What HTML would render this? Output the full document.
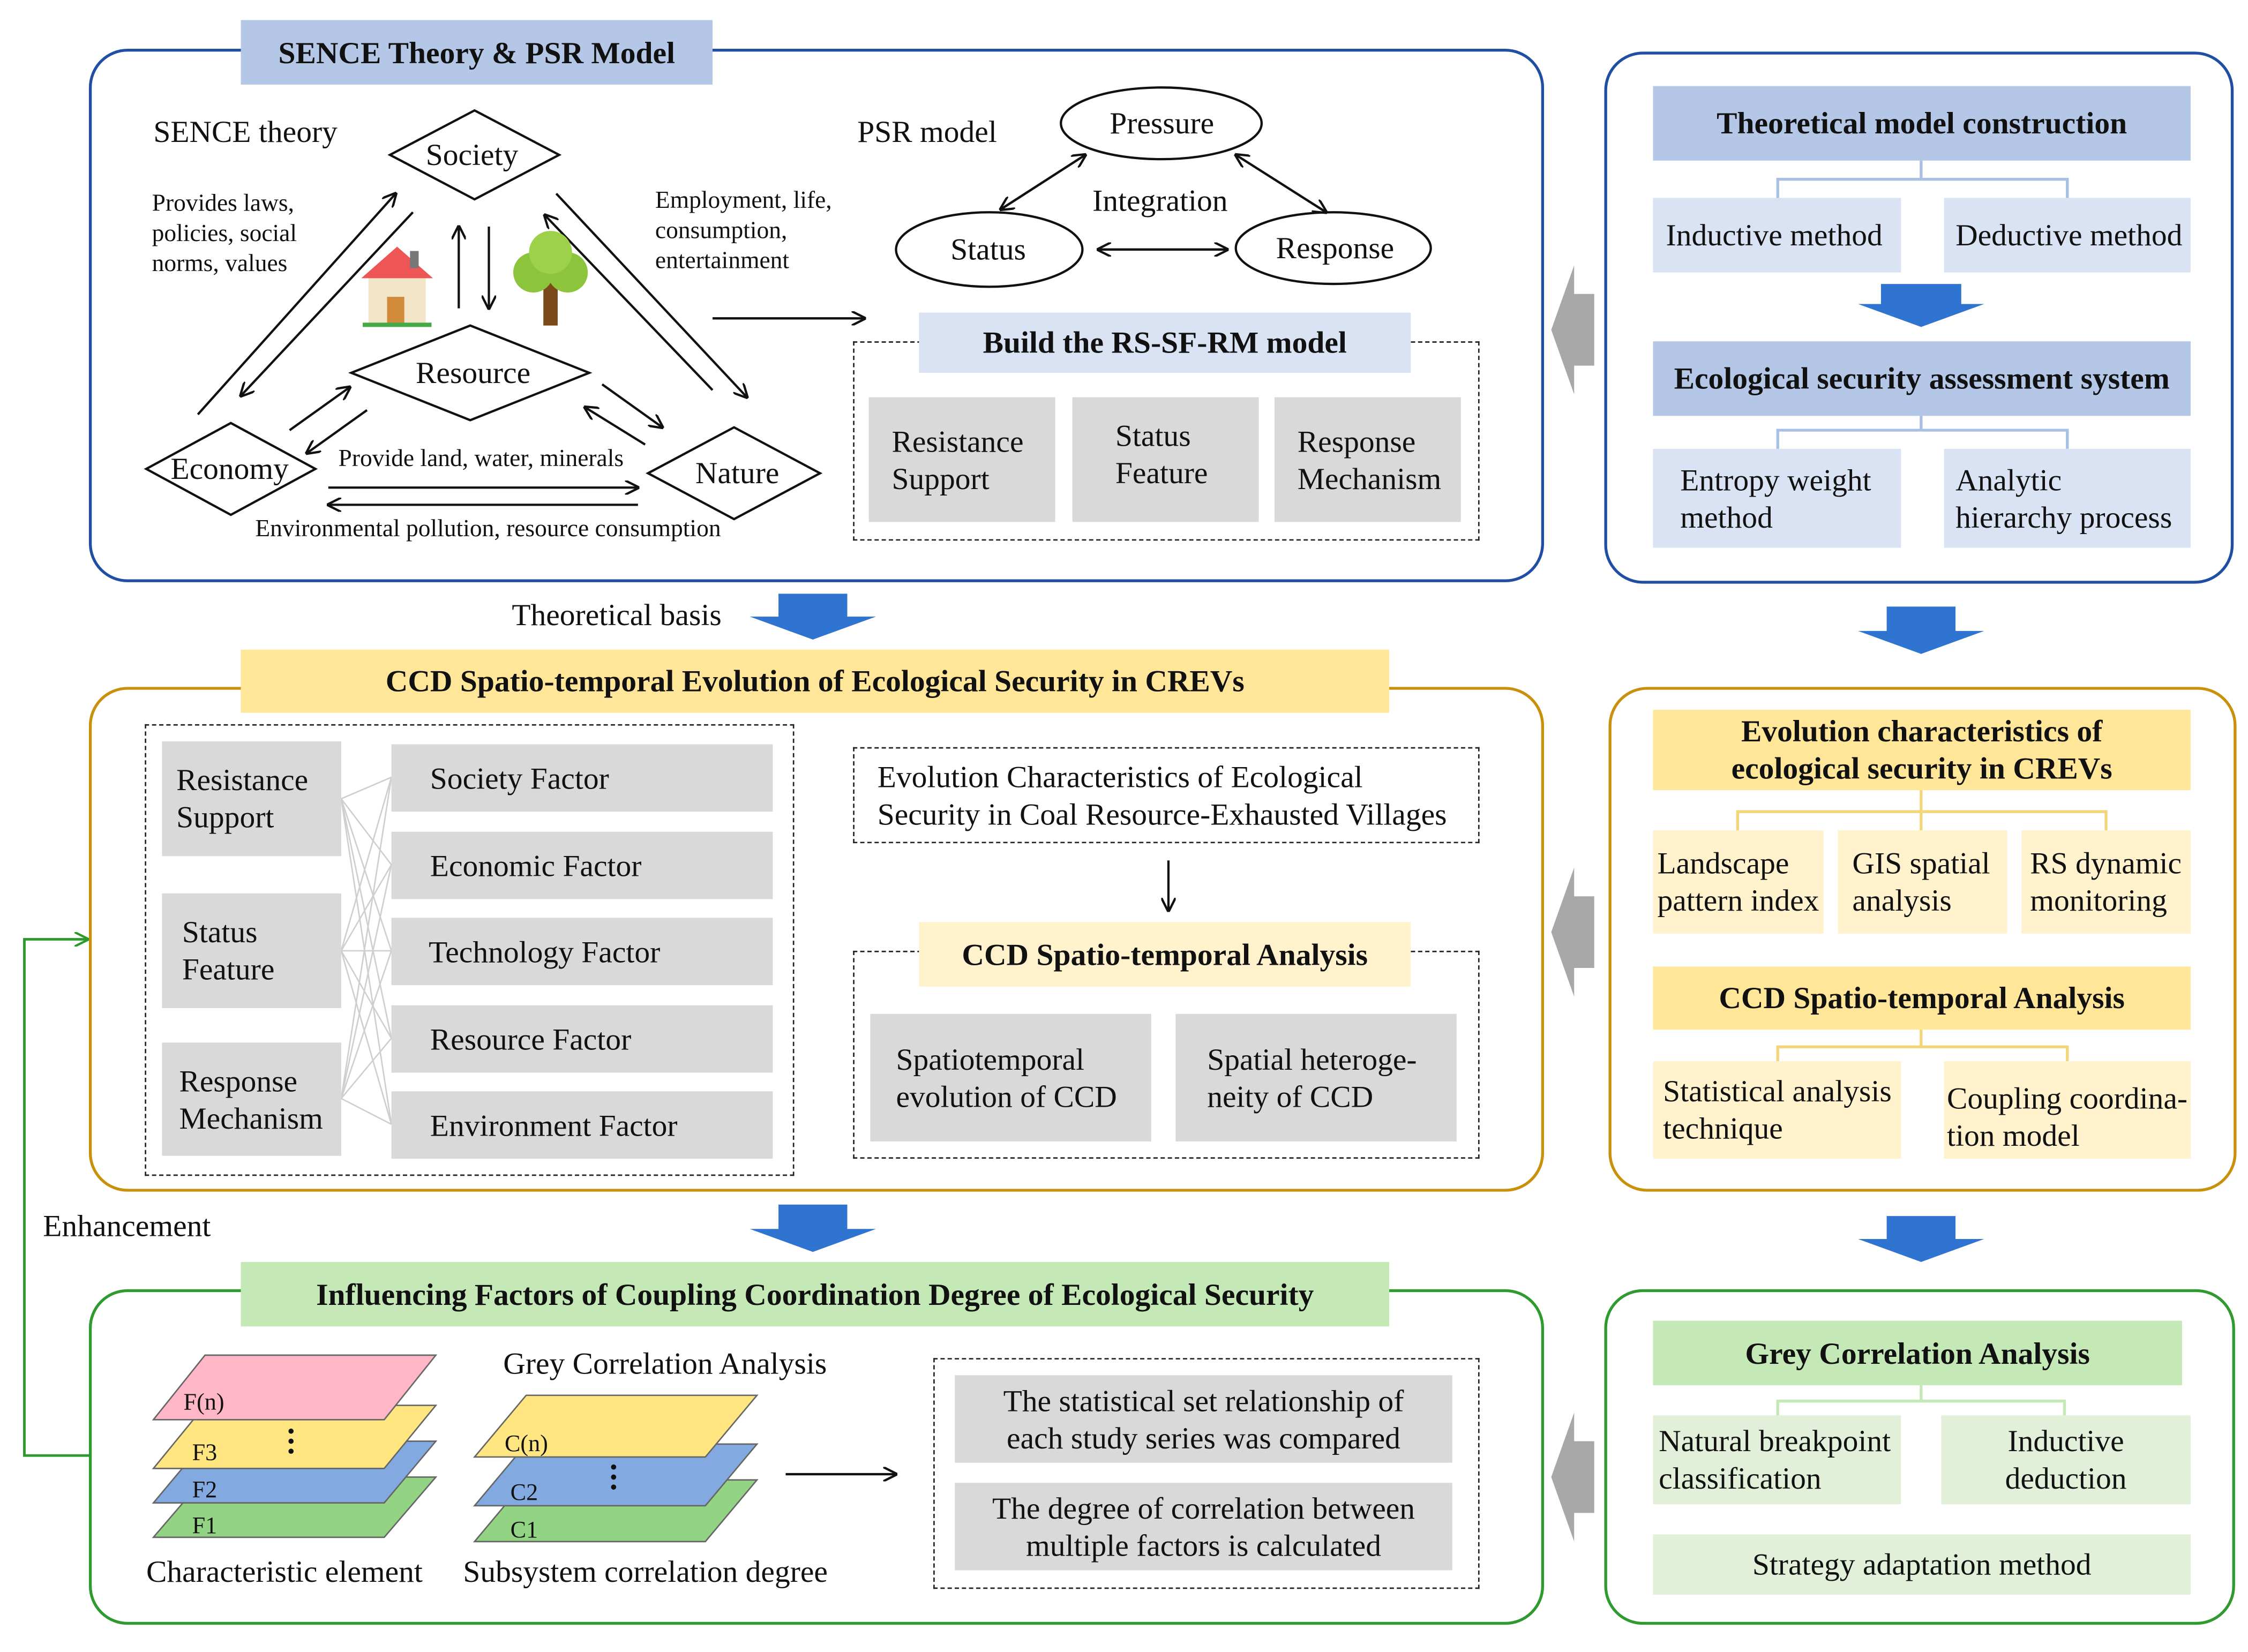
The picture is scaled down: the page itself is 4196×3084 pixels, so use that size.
<!DOCTYPE html>
<html><head><meta charset="utf-8"><style>
html,body{margin:0;padding:0;background:#fff;width:4196px;height:3084px;overflow:hidden}
#c{position:absolute;left:0;top:0;width:1568px;height:1152px;transform:scale(2.6760,2.6771);transform-origin:0 0;font-family:"Liberation Serif",serif;color:#111}
.a{position:absolute;box-sizing:border-box}
.t{position:absolute;white-space:nowrap;font-size:21.5px;line-height:24px}
.b{font-weight:bold}
.box{position:absolute;box-sizing:border-box;font-size:21.5px;line-height:26px;display:flex;align-items:center;padding-left:12px;white-space:nowrap}
.cen{justify-content:center;text-align:center;padding-left:0}
.g{background:#d9d9d9}
.lb{background:#dae3f3}.hb{background:#b4c7e7;font-weight:bold}
.ly{background:#fff2cc}.hy{background:#ffe699;font-weight:bold}
.lg{background:#e2f0d9}.hg{background:#c5e8b7;font-weight:bold}
.dash{position:absolute;box-sizing:border-box;border:1.8px dashed #222}
svg{position:absolute;left:0;top:0}
</style></head><body><div id="c">
<svg width="1568" height="1152" viewBox="0 0 1568 1152">
<defs>
<marker id="ar" markerWidth="10" markerHeight="10" refX="9" refY="5" orient="auto" markerUnits="userSpaceOnUse"><path d="M0,0 L10,5 L0,10" fill="none" stroke="#111" stroke-width="1.6"/></marker>
<marker id="ag" markerWidth="10" markerHeight="10" refX="9" refY="5" orient="auto" markerUnits="userSpaceOnUse"><path d="M0,0 L10,5 L0,10" fill="none" stroke="#2a9a2a" stroke-width="1.6"/></marker>
</defs>
<rect x="63" y="35" width="1013" height="370" rx="26" fill="none" stroke="#1f4ea3" stroke-width="2"/>
<rect x="1120" y="37" width="437" height="369" rx="26" fill="none" stroke="#1f4ea3" stroke-width="2"/>
<rect x="63" y="480" width="1013" height="350" rx="26" fill="none" stroke="#c9900c" stroke-width="2"/>
<rect x="1123" y="480" width="436" height="350" rx="26" fill="none" stroke="#c9900c" stroke-width="2"/>
<rect x="63" y="900" width="1013" height="232" rx="26" fill="none" stroke="#2f9a2f" stroke-width="2"/>
<rect x="1120" y="900" width="438" height="232" rx="26" fill="none" stroke="#2f9a2f" stroke-width="2"/>
<g fill="#fff" stroke="#111" stroke-width="1.6">
<polygon points="272,108 331,77 390,108 331,139"/>
<polygon points="245,260 328,227 411,260 328,293"/>
<polygon points="102,327 161,295 220,327 161,359"/>
<polygon points="452,330 512,298 572,330 512,362"/>
<ellipse cx="810" cy="86" rx="70" ry="25"/>
<ellipse cx="690" cy="174" rx="65" ry="26"/>
<ellipse cx="930" cy="173" rx="68" ry="25"/>
</g>
<g stroke="#111" stroke-width="1.6" fill="none">
<line x1="138" y1="289" x2="276" y2="135" marker-end="url(#ar)"/>
<line x1="288" y1="148" x2="168" y2="276" marker-end="url(#ar)"/>
<line x1="320" y1="215" x2="320" y2="158" marker-end="url(#ar)"/>
<line x1="341" y1="158" x2="341" y2="215" marker-end="url(#ar)"/>
<line x1="388" y1="135" x2="521" y2="277" marker-end="url(#ar)"/>
<line x1="497" y1="272" x2="380" y2="150" marker-end="url(#ar)"/>
<line x1="202" y1="300" x2="244" y2="270" marker-end="url(#ar)"/>
<line x1="256" y1="286" x2="214" y2="316" marker-end="url(#ar)"/>
<line x1="420" y1="268" x2="462" y2="298" marker-end="url(#ar)"/>
<line x1="450" y1="310" x2="408" y2="284" marker-end="url(#ar)"/>
<line x1="229" y1="340" x2="445" y2="340" marker-end="url(#ar)"/>
<line x1="445" y1="352" x2="229" y2="352" marker-end="url(#ar)"/>
<line x1="497" y1="222" x2="603" y2="222" marker-end="url(#ar)"/>
<line x1="698" y1="146" x2="757" y2="108" marker-end="url(#ar)"/>
<line x1="757" y1="108" x2="698" y2="146" marker-end="url(#ar)"/>
<line x1="862" y1="108" x2="925" y2="148" marker-end="url(#ar)"/>
<line x1="925" y1="148" x2="862" y2="108" marker-end="url(#ar)"/>
<line x1="766" y1="174" x2="856" y2="174" marker-end="url(#ar)"/>
<line x1="856" y1="174" x2="766" y2="174" marker-end="url(#ar)"/>
<line x1="815" y1="600" x2="815" y2="635" marker-end="url(#ar)"/>
<line x1="548" y1="1028" x2="625" y2="1028" marker-end="url(#ar)"/>
</g>
<rect x="257" y="192" width="40" height="34" fill="#f3e6c8"/><polygon points="252,194 277,172 302,194" fill="#e55"/><rect x="270" y="207" width="12" height="19" fill="#d08a3a"/><rect x="286" y="175" width="6" height="12" fill="#777"/><rect x="253" y="225" width="48" height="3" fill="#4a4"/>
<rect x="379" y="195" width="10" height="32" fill="#7a4a1a"/><circle cx="372" cy="190" r="14" fill="#8cc43c"/><circle cx="396" cy="190" r="14" fill="#8cc43c"/><circle cx="384" cy="176" r="15" fill="#9ed14a"/>
<g stroke="#a9c0e4" stroke-width="2" fill="none">
<path d="M1340,112 V125 H1240 V138 M1340,125 H1442 V138"/>
<path d="M1340,290 V300 H1240 V313 M1340,300 H1442 V313"/>
</g>
<g stroke="#f3d57a" stroke-width="2" fill="none">
<path d="M1340,551 V566 H1212 V579 M1340,566 H1469 V579 M1340,566 V579"/>
<path d="M1340,718 V730 H1240 V740 M1340,730 H1442 V740"/>
</g>
<g stroke="#c5e8b7" stroke-width="2" fill="none">
<path d="M1340,966 V977 H1240 V987 M1340,977 H1440 V987"/>
</g>
<g fill="#2f74d0">
<polygon points="1312,198 1368,198 1368,212 1384,212 1340,228 1296,212 1312,212"/>
<polygon points="543,414 591,414 591,430 611,430 567,446 523,430 543,430"/>
<polygon points="1316,423 1364,423 1364,440 1384,440 1340,456 1296,440 1316,440"/>
<polygon points="543,840 591,840 591,857 611,857 567,873 523,857 543,857"/>
<polygon points="1316,848 1364,848 1364,864 1384,864 1340,880 1296,864 1316,864"/>
</g>
<g fill="#a8a8a8">
<polygon points="1112,205 1112,255 1098,255 1098,275 1082,230 1098,185 1098,205"/>
<polygon points="1112,625 1112,675 1098,675 1098,695 1082,650 1098,605 1098,625"/>
<polygon points="1112,1005 1112,1055 1098,1055 1098,1075 1082,1030 1098,985 1098,1005"/>
</g>
<g stroke="#cfcfcf" stroke-width="1">
<line x1="238" y1="557" x2="273" y2="542"/><line x1="238" y1="557" x2="273" y2="603"/><line x1="238" y1="557" x2="273" y2="663"/><line x1="238" y1="557" x2="273" y2="724"/><line x1="238" y1="557" x2="273" y2="784"/>
<line x1="238" y1="663" x2="273" y2="542"/><line x1="238" y1="663" x2="273" y2="603"/><line x1="238" y1="663" x2="273" y2="663"/><line x1="238" y1="663" x2="273" y2="724"/><line x1="238" y1="663" x2="273" y2="784"/>
<line x1="238" y1="766" x2="273" y2="542"/><line x1="238" y1="766" x2="273" y2="603"/><line x1="238" y1="766" x2="273" y2="663"/><line x1="238" y1="766" x2="273" y2="724"/><line x1="238" y1="766" x2="273" y2="784"/>
</g>
<g stroke="#666" stroke-width="1">
<polygon points="143,1030 304,1030 268,1072 107,1072" fill="#92d483"/>
<polygon points="143,1005 304,1005 268,1048 107,1048" fill="#82a9e0"/>
<polygon points="143,980 304,980 268,1024 107,1024" fill="#ffe680"/>
<polygon points="143,945 304,945 268,990 107,990" fill="#ffb6c6"/>
<polygon points="367,1032 528,1032 492,1075 331,1075" fill="#92d483"/>
<polygon points="367,1007 528,1007 492,1050 331,1050" fill="#82a9e0"/>
<polygon points="367,973 528,973 492,1016 331,1016" fill="#ffe680"/>
</g>
<g fill="#111"><circle cx="203" cy="998" r="1.8"/><circle cx="203" cy="1005" r="1.8"/><circle cx="203" cy="1012" r="1.8"/>
<circle cx="428" cy="1023" r="1.8"/><circle cx="428" cy="1030" r="1.8"/><circle cx="428" cy="1037" r="1.8"/></g>
<g font-family="Liberation Serif,serif" font-size="16.5" fill="#111">
<text x="128" y="983">F(n)</text><text x="134" y="1018">F3</text><text x="134" y="1044">F2</text><text x="134" y="1069">F1</text>
<text x="352" y="1012">C(n)</text><text x="356" y="1046">C2</text><text x="356" y="1072">C1</text></g>
<path d="M63,1015 H17 V655 H61" fill="none" stroke="#2a9a2a" stroke-width="1.8" marker-end="url(#ag)"/>
</svg>

<div class="box hb cen" style="left:168px;top:14px;width:329px;height:45px">SENCE Theory &amp; PSR Model</div>
<div class="t" style="left:107px;top:80px">SENCE theory</div>
<div class="t" style="left:106px;top:131px;font-size:17px;line-height:21px">Provides laws,<br>policies, social<br>norms, values</div>
<div class="t" style="left:457px;top:129px;font-size:17px;line-height:21px">Employment, life,<br>consumption,<br>entertainment</div>
<div class="t" style="left:297px;top:96px">Society</div>
<div class="t" style="left:290px;top:248px">Resource</div>
<div class="t" style="left:119px;top:315px">Economy</div>
<div class="t" style="left:485px;top:318px">Nature</div>
<div class="t" style="left:236px;top:308px;font-size:17px">Provide land, water, minerals</div>
<div class="t" style="left:178px;top:357px;font-size:17px">Environmental pollution, resource consumption</div>
<div class="t" style="left:598px;top:80px">PSR model</div>
<div class="t" style="left:774px;top:74px">Pressure</div>
<div class="t" style="left:663px;top:162px">Status</div>
<div class="t" style="left:890px;top:161px">Response</div>
<div class="t" style="left:762px;top:128px">Integration</div>
<div class="dash" style="left:595px;top:238px;width:437px;height:139px"></div>
<div class="box lb b cen" style="left:641px;top:218px;width:343px;height:42px">Build the RS-SF-RM model</div>
<div class="box g" style="left:606px;top:277px;width:130px;height:87px;padding-left:16px">Resistance<br>Support</div>
<div class="box g" style="left:748px;top:277px;width:130px;height:87px;padding-left:30px;align-items:flex-start;padding-top:14px">Status<br>Feature</div>
<div class="box g" style="left:889px;top:277px;width:130px;height:87px;padding-left:16px">Response<br>Mechanism</div>

<div class="box hb cen" style="left:1153px;top:60px;width:375px;height:52px">Theoretical model construction</div>
<div class="box lb" style="left:1153px;top:138px;width:173px;height:52px;padding-left:9px">Inductive method</div>
<div class="box lb" style="left:1356px;top:138px;width:172px;height:52px;padding-left:8px">Deductive method</div>
<div class="box hb cen" style="left:1153px;top:238px;width:375px;height:52px">Ecological security assessment system</div>
<div class="box lb" style="left:1153px;top:313px;width:173px;height:69px;padding-left:19px">Entropy weight<br>method</div>
<div class="box lb" style="left:1356px;top:313px;width:172px;height:69px;padding-left:8px">Analytic<br>hierarchy process</div>

<div class="t" style="left:357px;top:417px">Theoretical basis</div>
<div class="box hy cen" style="left:168px;top:453px;width:801px;height:44px">CCD Spatio-temporal Evolution of Ecological Security in CREVs</div>
<div class="dash" style="left:101px;top:505px;width:453px;height:315px"></div>
<div class="box g" style="left:113px;top:517px;width:125px;height:80px;padding-left:10px">Resistance<br>Support</div>
<div class="box g" style="left:113px;top:623px;width:125px;height:80px;padding-left:14px">Status<br>Feature</div>
<div class="box g" style="left:113px;top:727px;width:125px;height:79px;padding-left:12px">Response<br>Mechanism</div>
<div class="box g" style="left:273px;top:519px;width:266px;height:47px;padding-left:27px">Society Factor</div>
<div class="box g" style="left:273px;top:580px;width:266px;height:47px;padding-left:27px">Economic Factor</div>
<div class="box g" style="left:273px;top:640px;width:266px;height:47px;padding-left:26px">Technology Factor</div>
<div class="box g" style="left:273px;top:701px;width:266px;height:47px;padding-left:27px">Resource Factor</div>
<div class="box g" style="left:273px;top:761px;width:266px;height:47px;padding-left:27px">Environment Factor</div>
<div class="dash box" style="left:595px;top:521px;width:437px;height:67px;padding-left:16px">Evolution Characteristics of Ecological<br>Security in Coal Resource-Exhausted Villages</div>
<div class="dash" style="left:595px;top:663px;width:437px;height:145px"></div>
<div class="box ly b cen" style="left:641px;top:643px;width:343px;height:45px">CCD Spatio-temporal Analysis</div>
<div class="box g" style="left:607px;top:707px;width:196px;height:89px;padding-left:18px">Spatiotemporal<br>evolution of CCD</div>
<div class="box g" style="left:820px;top:707px;width:196px;height:89px;padding-left:22px">Spatial heteroge-<br>neity of CCD</div>

<div class="box hy cen" style="left:1153px;top:495px;width:375px;height:56px;line-height:26px">Evolution characteristics of<br>ecological security in CREVs</div>
<div class="box ly" style="left:1153px;top:579px;width:119px;height:72px;padding-left:3px">Landscape<br>pattern index</div>
<div class="box ly" style="left:1282px;top:579px;width:118px;height:72px;padding-left:10px">GIS spatial<br>analysis</div>
<div class="box ly" style="left:1410px;top:579px;width:118px;height:72px;padding-left:6px">RS dynamic<br>monitoring</div>
<div class="box hy cen" style="left:1153px;top:674px;width:375px;height:44px">CCD Spatio-temporal Analysis</div>
<div class="box ly" style="left:1153px;top:740px;width:173px;height:68px;padding-left:7px">Statistical analysis<br>technique</div>
<div class="box ly" style="left:1356px;top:740px;width:172px;height:68px;padding-left:2px;padding-top:10px">Coupling coordina-<br>tion model</div>

<div class="t" style="left:30px;top:843px">Enhancement</div>
<div class="box hg cen" style="left:168px;top:880px;width:801px;height:45px">Influencing Factors of Coupling Coordination Degree of Ecological Security</div>
<div class="t" style="left:351px;top:939px">Grey Correlation Analysis</div>
<div class="t" style="left:102px;top:1084px">Characteristic element</div>
<div class="t" style="left:323px;top:1084px">Subsystem correlation degree</div>
<div class="dash" style="left:651px;top:947px;width:381px;height:161px"></div>
<div class="box g cen" style="left:666px;top:959px;width:347px;height:61px">The statistical set relationship of<br>each study series was compared</div>
<div class="box g cen" style="left:666px;top:1034px;width:347px;height:61px">The degree of correlation between<br>multiple factors is calculated</div>

<div class="box hg cen" style="left:1153px;top:921px;width:369px;height:45px">Grey Correlation Analysis</div>
<div class="box lg" style="left:1153px;top:987px;width:173px;height:62px;padding-left:4px">Natural breakpoint<br>classification</div>
<div class="box lg cen" style="left:1354px;top:987px;width:174px;height:62px">Inductive<br>deduction</div>
<div class="box lg cen" style="left:1153px;top:1070px;width:375px;height:42px">Strategy adaptation method</div>
</div></body></html>
